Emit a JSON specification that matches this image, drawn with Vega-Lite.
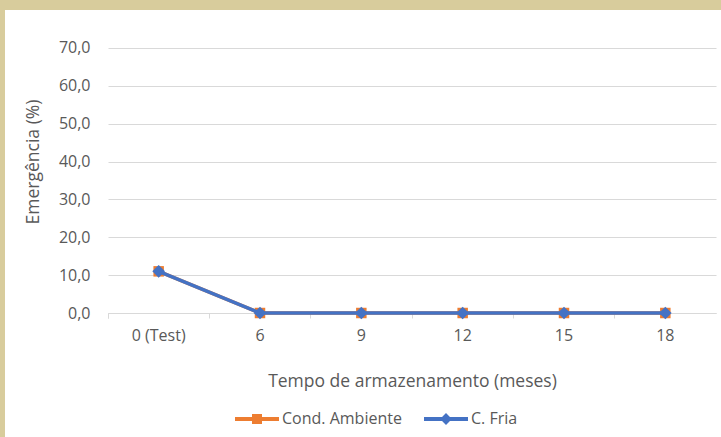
{
  "$schema": "https://vega.github.io/schema/vega-lite/v6.json",
  "background": "white",
  "padding": 0,
  "spacing": 0,
  "config": {"font": "Open Sans", "view": {"stroke": null}},
  "vconcat": [
    {
      "width": 721, "height": 10,
      "data": {"values": []},
      "mark": "rect",
      "view": {"fill": "#D8CC9C", "stroke": null}
    },
    {
      "spacing": 19,
      "hconcat": [
        {
          "width": 5, "height": 427,
          "data": {"values": []},
          "mark": "rect",
          "view": {"fill": "#D8CC9C", "stroke": null}
        },
        {
          "width": 608, "height": 303,
          "data": {"values": [
            {"tempo": "0 (Test)", "series": "Cond. Ambiente", "emergencia": 11.0},
            {"tempo": "6", "series": "Cond. Ambiente", "emergencia": 0},
            {"tempo": "9", "series": "Cond. Ambiente", "emergencia": 0},
            {"tempo": "12", "series": "Cond. Ambiente", "emergencia": 0},
            {"tempo": "15", "series": "Cond. Ambiente", "emergencia": 0},
            {"tempo": "18", "series": "Cond. Ambiente", "emergencia": 0},
            {"tempo": "0 (Test)", "series": "C. Fria", "emergencia": 11.0},
            {"tempo": "6", "series": "C. Fria", "emergencia": 0},
            {"tempo": "9", "series": "C. Fria", "emergencia": 0},
            {"tempo": "12", "series": "C. Fria", "emergencia": 0},
            {"tempo": "15", "series": "C. Fria", "emergencia": 0},
            {"tempo": "18", "series": "C. Fria", "emergencia": 0}
          ]},
          "view": {"stroke": null},
          "encoding": {
            "x": {
              "field": "tempo", "type": "ordinal", "sort": null,
              "scale": {"type": "band", "paddingInner": 0, "paddingOuter": 0},
              "title": "Tempo de armazenamento (meses)",
              "axis": {
                "bandPosition": 0, "tickExtra": true, "grid": false,
                "domainColor": "#D9D9D9", "tickColor": "#D9D9D9", "tickSize": 5,
                "labelPadding": 9, "labelColor": "#595959", "labelFontSize": 16, "labelAngle": 0,
                "titleFontSize": 17.5, "titleColor": "#595959", "titleFontWeight": "normal", "titlePadding": 29
              }
            },
            "y": {
              "field": "emergencia", "type": "quantitative",
              "scale": {"domain": [0, 80], "nice": false},
              "title": "Emergência (%)",
              "axis": {
                "values": [0, 10, 20, 30, 40, 50, 60, 70],
                "labelExpr": "replace(format(datum.value, '.1f'), '.', ',')",
                "domain": false, "ticks": false, "tickSize": 0, "labelPadding": 18,
                "gridColor": "#D9D9D9", "labelColor": "#595959", "labelFontSize": 16,
                "titleFontSize": 17.5, "titleColor": "#595959", "titleFontWeight": "normal", "titlePadding": 16
              }
            },
            "color": {
              "field": "series", "type": "nominal",
              "scale": {"domain": ["Cond. Ambiente", "C. Fria"], "range": ["#ED7D31", "#4472C4"]},
              "legend": {
                "orient": "none", "legendX": 235, "legendY": 397, "direction": "horizontal",
                "title": null, "symbolSize": 1936, "symbolStrokeWidth": 0, "labelOffset": 3,
                "columnPadding": 22, "labelFontSize": 16, "labelColor": "#595959", "padding": 0,
                "encode": {
                  "symbols": {
                    "update": {
                      "shape": {"signal": "datum.value === 'C. Fria' ? 'M-1,-0.09H1V0.09H-1Z M0,-0.27L0.27,0L0,0.27L-0.27,0Z' : 'M-1,-0.09H1V0.09H-1Z M-0.227,-0.227H0.227V0.227H-0.227Z'"},
                      "fill": {"signal": "datum.value === 'C. Fria' ? '#4472C4' : '#ED7D31'"},
                      "stroke": {"value": "transparent"},
                      "opacity": {"value": 1}
                    }
                  }
                }
              }
            }
          },
          "layer": [
            {
              "transform": [{"filter": "datum.series === 'Cond. Ambiente'"}],
              "mark": {"type": "line", "strokeWidth": 3.5, "point": {"shape": "square", "size": 110, "filled": true, "opacity": 1}}
            },
            {
              "transform": [{"filter": "datum.series === 'C. Fria'"}],
              "mark": {"type": "line", "strokeWidth": 3.5, "point": {"shape": "diamond", "size": 160, "filled": true, "opacity": 1}}
            }
          ]
        }
      ]
    }
  ]
}
